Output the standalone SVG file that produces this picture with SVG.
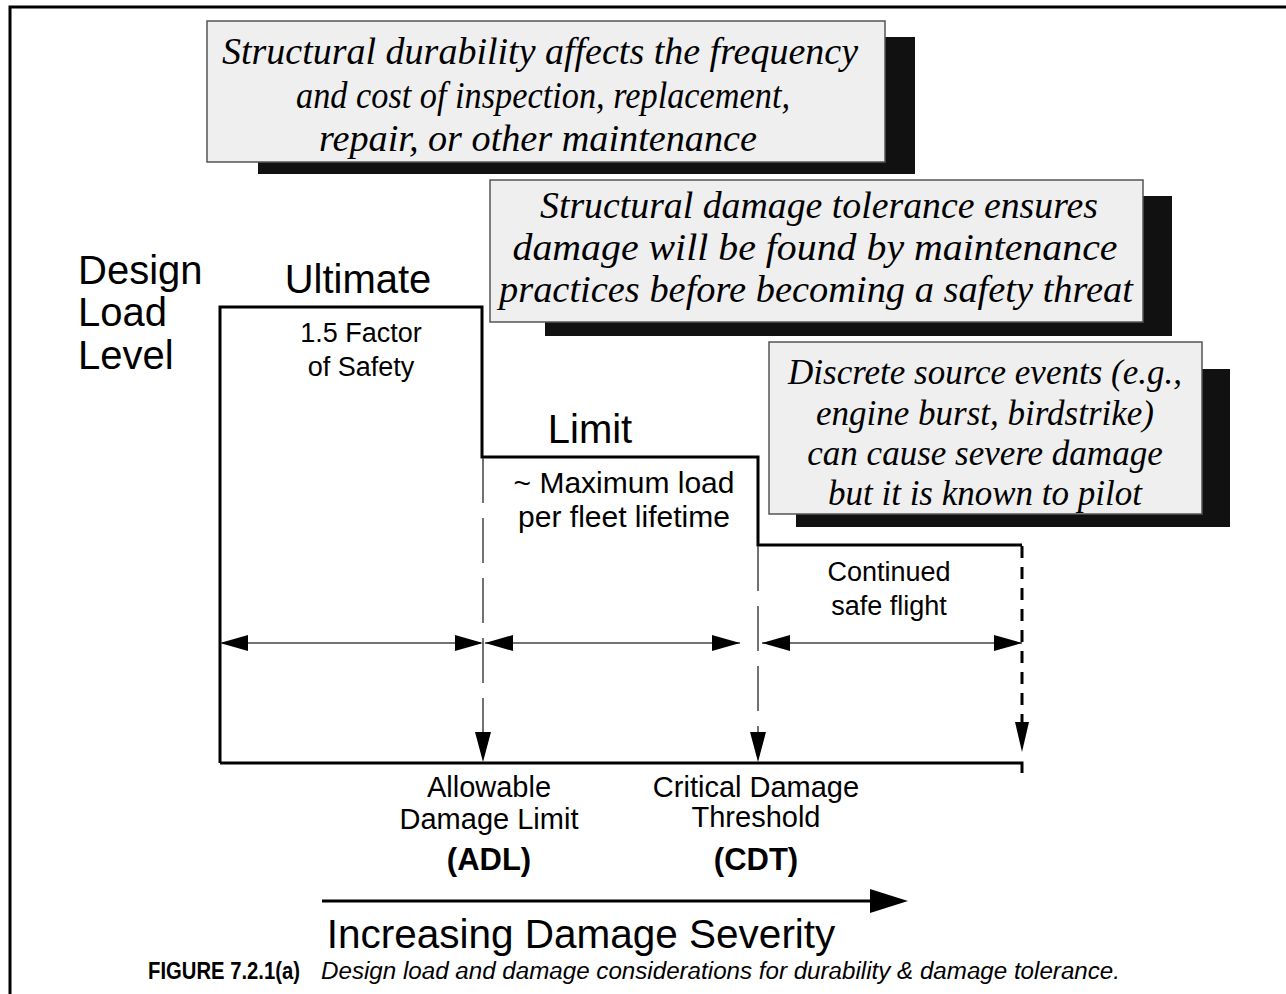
<svg xmlns="http://www.w3.org/2000/svg" width="1286" height="994" viewBox="0 0 1286 994">
<style>
.note{fill:#efefef;stroke:#555;stroke-width:1.5}
.shadow{fill:#111}
.ital{font-family:"Liberation Serif","Times New Roman",serif;font-style:italic;font-size:37px;fill:#000;text-anchor:middle}
.ital3{font-size:35px}
.sans{font-family:"Liberation Sans",Arial,sans-serif;fill:#000;text-anchor:middle}
.big{font-size:40px}
.mid{font-size:29px}
.thick{fill:none;stroke:#000;stroke-width:3}
.thin{fill:none;stroke:#444;stroke-width:1.5}
.dash{fill:none;stroke:#444;stroke-width:1.5;stroke-dasharray:45 15}
.head{fill:#000}
</style>
<rect width="1286" height="994" fill="#fff"/>
<g id="frame">
<path d="M10 994 V7 H1286" fill="none" stroke="#000" stroke-width="3"/>
</g>
<g id="note1">
<rect class="shadow" x="258" y="37" width="657" height="137"/>
<rect class="note" x="207" y="21" width="678" height="141"/>
<text class="ital" x="540" y="64" textLength="636" lengthAdjust="spacingAndGlyphs">Structural durability affects the frequency</text>
<text class="ital" x="543" y="108" textLength="494" lengthAdjust="spacingAndGlyphs">and cost of inspection, replacement,</text>
<text class="ital" x="538" y="151" textLength="438" lengthAdjust="spacingAndGlyphs">repair, or other maintenance</text>
</g>
<g id="note2">
<rect class="shadow" x="545" y="196" width="627" height="140"/>
<rect class="note" x="490" y="180" width="653" height="142"/>
<text class="ital" x="819" y="218" textLength="558" lengthAdjust="spacingAndGlyphs">Structural damage tolerance ensures</text>
<text class="ital" x="815" y="260" textLength="605" lengthAdjust="spacingAndGlyphs">damage will be found by maintenance</text>
<text class="ital" x="816" y="302" textLength="634" lengthAdjust="spacingAndGlyphs">practices before becoming a safety threat</text>
</g>
<g id="note3">
<rect class="shadow" x="796" y="369" width="434" height="158"/>
<rect class="note" x="769" y="342" width="433" height="172"/>
<text class="ital ital3" x="985" y="384">Discrete source events (e.g.,</text>
<text class="ital ital3" x="985" y="425">engine burst, birdstrike)</text>
<text class="ital ital3" x="985" y="465">can cause severe damage</text>
<text class="ital ital3" x="985" y="505">but it is known to pilot</text>
</g>
<g id="axis-label">
<text class="sans big" x="78" y="284" style="text-anchor:start">Design</text>
<text class="sans big" x="78" y="326" style="text-anchor:start">Load</text>
<text class="sans big" x="78" y="369" style="text-anchor:start">Level</text>
</g>
<g id="load-levels">
<path class="thick" d="M220 763 V307 H482 V457 H758 V545 H1022"/>
<path class="thick" d="M220 763 H1022 V773"/>
<text class="sans big" x="358" y="293">Ultimate</text>
<text class="sans" x="361" y="342" font-size="27">1.5 Factor</text>
<text class="sans" x="361" y="376" font-size="27">of Safety</text>
<text class="sans big" x="590" y="443">Limit</text>
<text class="sans" x="624" y="493" font-size="30">~ Maximum load</text>
<text class="sans" x="624" y="527" font-size="30">per fleet lifetime</text>
<text class="sans" x="889" y="581" font-size="27">Continued</text>
<text class="sans" x="889" y="615" font-size="27">safe flight</text>
</g>
<g id="connectors">
<line class="dash" x1="483" y1="458" x2="483" y2="735"/>
<line class="dash" x1="758" y1="546" x2="758" y2="735"/>
<line x1="1022" y1="546" x2="1022" y2="725" stroke="#000" stroke-width="3" stroke-dasharray="12 9"/>
<polygon class="head" points="475,732 491,732 483,762"/>
<polygon class="head" points="750,732 766,732 758,762"/>
<polygon class="head" points="1015,722 1029,722 1022,752"/>
<line class="thin" x1="222" y1="643" x2="481" y2="643"/>
<polygon class="head" points="220,643 248,635 248,651"/>
<polygon class="head" points="483,643 455,635 455,651"/>
<line class="thin" x1="485" y1="643" x2="740" y2="643"/>
<polygon class="head" points="485,643 513,635 513,651"/>
<polygon class="head" points="740,643 712,635 712,651"/>
<line class="thin" x1="762" y1="643" x2="1022" y2="643"/>
<polygon class="head" points="762,643 790,635 790,651"/>
<polygon class="head" points="1022,643 994,635 994,651"/>
<line x1="322" y1="901" x2="875" y2="901" stroke="#000" stroke-width="3"/>
<polygon class="head" points="870,889 908,901 870,913"/>
</g>
<g id="markers">
<text class="sans mid" x="489" y="797">Allowable</text>
<text class="sans mid" x="489" y="829">Damage Limit</text>
<text class="sans" x="489" y="870" font-size="31" font-weight="bold">(ADL)</text>
<text class="sans mid" x="756" y="797">Critical Damage</text>
<text class="sans mid" x="756" y="827">Threshold</text>
<text class="sans" x="756" y="870" font-size="31" font-weight="bold">(CDT)</text>
<text class="sans" x="581" y="948" font-size="40.5">Increasing Damage Severity</text>
</g>
<g id="caption">
<text x="148" y="979" font-family="Liberation Sans, Arial, sans-serif" font-size="23" font-weight="bold" textLength="152" lengthAdjust="spacingAndGlyphs">FIGURE 7.2.1(a)</text>
<text x="321" y="979" font-family="Liberation Sans, Arial, sans-serif" font-size="23" font-style="italic" textLength="799" lengthAdjust="spacingAndGlyphs">Design load and damage considerations for durability &amp; damage tolerance.</text>
</g>
</svg>
